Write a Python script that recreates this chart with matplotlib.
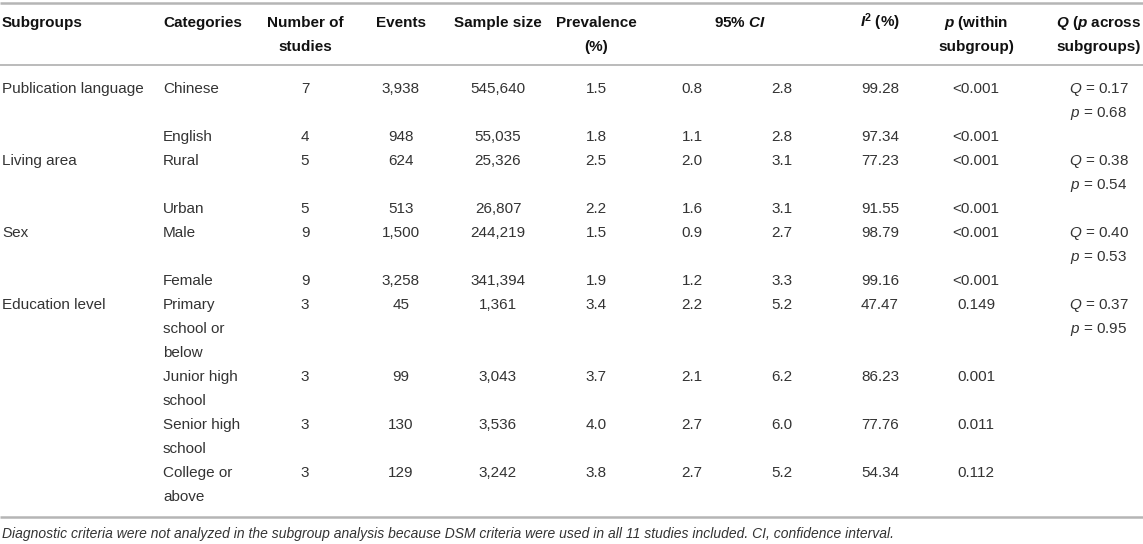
import matplotlib
matplotlib.use('Agg')
import matplotlib.pyplot as plt

plt.rcParams['font.family'] = ['Liberation Sans', 'DejaVu Sans']
plt.rcParams['mathtext.fontset'] = 'custom'
plt.rcParams['mathtext.rm'] = 'Liberation Sans'
plt.rcParams['mathtext.it'] = 'Liberation Sans:italic'
plt.rcParams['mathtext.bf'] = 'Liberation Sans:bold'
plt.rcParams['mathtext.bfit'] = 'Liberation Sans:bold:italic'

# данные таблицы
subgroups = ['Publication language', '', 'Living area', '', 'Sex', '',
             'Education level', '', '', '']
categories = ['Chinese', 'English', 'Rural', 'Urban', 'Male', 'Female',
              'Primary\nschool or\nbelow', 'Junior high\nschool',
              'Senior high\nschool', 'College or\nabove']
n_studies = [7, 4, 5, 5, 9, 9, 3, 3, 3, 3]
events = [3938, 948, 624, 513, 1500, 3258, 45, 99, 130, 129]
sample_size = [545640, 55035, 25326, 26807, 244219, 341394, 1361, 3043, 3536, 3242]
prevalence = [1.5, 1.8, 2.5, 2.2, 1.5, 1.9, 3.4, 3.7, 4.0, 3.8]
ci_low = [0.8, 1.1, 2.0, 1.6, 0.9, 1.2, 2.2, 2.1, 2.7, 2.7]
ci_high = [2.8, 2.8, 3.1, 3.1, 2.7, 3.3, 5.2, 6.2, 6.0, 5.2]
i2 = [99.28, 97.34, 77.23, 91.55, 98.79, 99.16, 47.47, 86.23, 77.76, 54.34]
p_within = ['<0.001'] * 6 + ['0.149', '0.001', '0.011', '0.112']
q_values = [0.17, None, 0.38, None, 0.40, None, 0.37, None, None, None]
q_pvalues = [0.68, None, 0.54, None, 0.53, None, 0.95, None, None, None]

headers = [
    ('Subgroups', ''), ('Categories', ''), ('Number of', 'studies'),
    ('Events', ''), ('Sample size', ''), ('Prevalence', '(%)'),
    (r'95% $\mathbfit{CI}$', ''), (r'$\mathbfit{I}^{\mathbf{2}}$ (%)', ''),
    (r'$\mathbfit{p}$ (within', 'subgroup)'),
    (r'$\mathbfit{Q}$ ($\mathbfit{p}$ across', 'subgroups)'),
]
caption = ('Diagnostic criteria were not analyzed in the subgroup analysis because '
           'DSM criteria were used in all 11 studies included. CI, confidence interval.')

W, H = 1143, 544
fig = plt.figure(figsize=(W / 100, H / 100), dpi=100)
ax = fig.add_axes([0, 0, 1, 1])
ax.set_xlim(0, W)
ax.set_ylim(H, 0)
ax.axis('off')

fs = 11
txt = '#333333'
hdr = '#111111'
line_col = '#b5b5b5'
pitch = 24
off = 5  # от центра строки до базовой линии

# позиции колонок: (x, выравнивание)
cols = [(2, 'left'), (163, 'left'), (305, 'center'), (401, 'center'),
        (498, 'center'), (596, 'center'), (740, 'center'), (880, 'center'),
        (976, 'center'), (1099, 'center')]

# линии
ax.plot([0, W], [3, 3], color=line_col, lw=1.8, solid_capstyle='butt')
ax.plot([0, W], [65, 65], color=line_col, lw=1.3, solid_capstyle='butt')
ax.plot([0, W], [517, 517], color=line_col, lw=1.8, solid_capstyle='butt')

# заголовок
for (x, ha), (l1, l2) in zip(cols, headers):
    ax.text(x, 22 + off, l1, ha=ha, va='baseline', fontsize=fs,
            fontweight='bold', color=hdr)
    if l2:
        ax.text(x, 46 + off, l2, ha=ha, va='baseline', fontsize=fs,
                fontweight='bold', color=hdr)


def put(x, y, s, ha='center'):
    ax.text(x, y + off, s, ha=ha, va='baseline', fontsize=fs, color=txt)


y = 88
for i in range(len(categories)):
    nlines = max(len(categories[i].split('\n')), 2 if q_values[i] is not None else 1)
    put(cols[0][0], y, subgroups[i], 'left')
    for k, part in enumerate(categories[i].split('\n')):
        put(cols[1][0], y + k * pitch, part, 'left')
    put(cols[2][0], y, str(n_studies[i]))
    put(cols[3][0], y, f'{events[i]:,}')
    put(cols[4][0], y, f'{sample_size[i]:,}')
    put(cols[5][0], y, f'{prevalence[i]:.1f}')
    put(692, y, f'{ci_low[i]:.1f}')
    put(782, y, f'{ci_high[i]:.1f}')
    put(cols[7][0], y, f'{i2[i]:.2f}')
    put(cols[8][0], y, p_within[i])
    if q_values[i] is not None:
        put(cols[9][0], y, rf'$\mathit{{Q}}$ = {q_values[i]:.2f}')
        put(cols[9][0], y + pitch, rf'$\mathit{{p}}$ = {q_pvalues[i]:.2f}')
    y += nlines * pitch

ax.text(2, 533 + off, caption, ha='left', va='baseline', fontsize=10,
        style='italic', color=txt)

fig.savefig('out.png', dpi=100)
